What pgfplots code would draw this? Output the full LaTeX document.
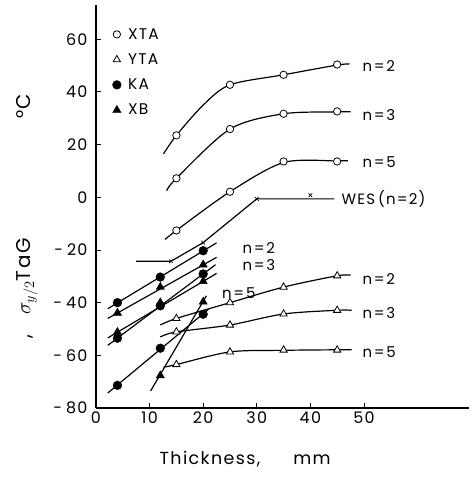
\documentclass[border=0pt]{standalone}
\usepackage{fontspec}
\setmainfont{Poppins}[LetterSpace=8]
\usepackage{pgfplots}
\pgfplotsset{compat=1.18}
\newcommand{\fs}{\fontsize{15.5}{18}\selectfont}
\newcommand{\fn}{\fontsize{15}{18}\selectfont}
\newcommand{\ft}{\fontsize{16}{19}\selectfont}

\begin{document}
\begin{tikzpicture}[font=\fs]
\begin{axis}[
  scale only axis, width=373bp, height=403bp,
  xmin=0, xmax=69.6, ymin=-80, ymax=73,
  axis x line=bottom, axis y line=left,
  axis line style={-, line width=1.1pt},
  tick align=inside, major tick length=5bp,
  tick style={black, line width=0.9pt},
  xtick={0,10,...,50}, ytick={-80,-60,...,60},
  yticklabels={-\hspace{0.25em}80,-\hspace{0.25em}60,-\hspace{0.25em}40,-\hspace{0.25em}20,0,20,40,60},
  /pgf/number format/assume math mode=true,
  tick label style={font=\ft},
  yticklabel style={xshift=-5bp},
  xlabel={\fontsize{17.5}{20}\selectfont Thickness,\hspace{1.9em}mm},
  xlabel style={at={(axis description cs:0.4,0)}, anchor=north, yshift=-43bp, inner sep=0pt},
  ylabel={\fontsize{20}{23}\selectfont ,\hspace{1em}$\sigma_{y/2}$TaG\hspace{6em}°C},
  ylabel style={at={(axis description cs:-0.185,0.476)}, anchor=center, inner sep=0pt},
  legend style={at={(axis cs:2.7,65)}, anchor=north west, draw=none, fill=none,
    inner sep=0pt, row sep=9bp, font=\fs},
  legend cell align=left,
  legend image code/.code={\path (0bp,0bp) (15bp,0bp); \draw[#1] plot coordinates {(6bp,0bp)};},
  curve/.style={black, line width=1.2pt, no marks, forget plot},
  mxta/.style={only marks, mark=*, mark size=3.7pt, mark options={fill=white, draw=black, line width=0.8pt}},
  myta/.style={only marks, mark=triangle*, mark size=4.2pt, mark options={fill=white, draw=black, line width=0.8pt}},
  mka/.style={only marks, mark=*, mark size=4.4pt, mark options={fill=black, draw=black}},
  mxb/.style={only marks, mark=triangle*, mark size=4.8pt, mark options={fill=black, draw=black}},
  mwes/.style={only marks, mark=x, mark size=2.6pt, mark options={draw=black, line width=0.7pt}},
]
% XTA curves
\addplot[curve, smooth, tension=0.5] coordinates {(12.6,16.5) (15,23.5) (20,35) (25,42.7) (35,46.5) (45,50.2) (47.3,50.6)};
\addplot[curve, smooth, tension=0.5] coordinates {(13.2,2.5) (15,7.2) (25,25.9) (35,31.7) (45,32.4) (47.5,32.5)};
\addplot[curve, smooth, tension=0.5] coordinates {(12.9,-16) (15,-12.6) (25,2.1) (35,13.2) (45,13.8) (47,13.9)};
% WES (n=2)
\addplot[curve] coordinates {(7.5,-24.3) (14,-24.3) (20,-17.2) (30,-0.6) (44.5,-0.6)};
% KA and XB lines
\addplot[curve] coordinates {(2.2,-42.3) (22.5,-17.3)};
\addplot[curve] coordinates {(2.2,-46) (22.5,-22.8)};
\addplot[curve] coordinates {(2.2,-56.2) (22.3,-25.6)};
\addplot[curve] coordinates {(2.2,-53.4) (22.5,-28.9)};
\addplot[curve] coordinates {(2.2,-74.3) (21,-42.5)};
\addplot[curve] coordinates {(10.2,-73.5) (20.6,-37.4)};
% YTA curves
\addplot[curve, smooth, tension=0.5] coordinates {(12,-48.5) (15,-46) (25,-40) (35,-34.1) (45,-29.8) (47.5,-29.6)};
\addplot[curve, smooth, tension=0.5] coordinates {(12,-53) (15,-51.1) (25,-48.5) (35,-44.3) (45,-42.9) (47.7,-42.9)};
\addplot[curve, smooth, tension=0.5] coordinates {(12.6,-64.5) (15,-63.5) (25,-58.7) (35,-58.1) (45,-57.9) (47.7,-57.9)};

% marks (first of each kind carries the legend entry)
\addplot[mxta] coordinates {(15,23.5) (25,42.7) (35,46.5) (45,50.4)};
\addlegendentry{XTA}
\addplot[myta] coordinates {(15,-46) (25,-40) (35,-34.1) (45,-29.8)};
\addlegendentry{YTA}
\addplot[mka] coordinates {(4,-40) (12,-30.3) (20,-20.3)};
\addlegendentry{KA}
\addplot[mxb] coordinates {(4,-43.9) (12,-34.1) (20,-25.6)};
\addlegendentry{XB}
\addplot[mxta, forget plot] coordinates {(15,7.2) (25,25.9) (35,31.7) (45,32.6)};
\addplot[mxta, forget plot] coordinates {(15,-12.6) (25,2.1) (35,13.6) (45,13.6)};
\addplot[myta, forget plot] coordinates {(15,-51.1) (25,-48.5) (35,-44.3) (45,-42.9)};
\addplot[myta, forget plot] coordinates {(15,-63.5) (25,-58.7) (35,-58) (45,-58)};
\addplot[mka, forget plot] coordinates {(4,-53.5) (12,-41.2) (20,-29.1)};
\addplot[mka, forget plot] coordinates {(4,-71.4) (12,-57.3) (20,-44.4)};
\addplot[mxb, forget plot] coordinates {(4,-51.2) (12,-40) (20,-31.9)};
\addplot[mxb, forget plot] coordinates {(12,-67.7) (20,-39.7)};
\addplot[mwes, forget plot] coordinates {(14,-24.3) (20,-17.2) (30,-0.6) (40,0.8)};

% curve labels
\begin{scope}[every node/.style={inner sep=0pt, anchor=west, font=\fn}]
\node at (axis cs:49.7,50) {n\hspace{0.12em}=\hspace{0.12em}2};
\node at (axis cs:49.7,31.1) {n\hspace{0.12em}=\hspace{0.12em}3};
\node at (axis cs:49.7,13.2) {n\hspace{0.12em}=\hspace{0.12em}5};
\node at (axis cs:45.8,-0.6) {WES\hspace{0.2em}(n=2)};
\node at (axis cs:27.3,-19.3) {n\hspace{0.12em}=\hspace{0.12em}2};
\node at (axis cs:27.3,-25.7) {n\hspace{0.12em}=\hspace{0.12em}3};
\node at (axis cs:23.5,-36.5) {n\hspace{0.12em}=\hspace{0.12em}5};
\node at (axis cs:49.7,-31.2) {n\hspace{0.12em}=\hspace{0.12em}2};
\node at (axis cs:49.7,-43.9) {n\hspace{0.12em}=\hspace{0.12em}3};
\node at (axis cs:49.7,-58.7) {n\hspace{0.12em}=\hspace{0.12em}5};
\end{scope}
\end{axis}
\path (-96bp,-69bp) rectangle (373bp,408bp);
\end{tikzpicture}
\end{document}
